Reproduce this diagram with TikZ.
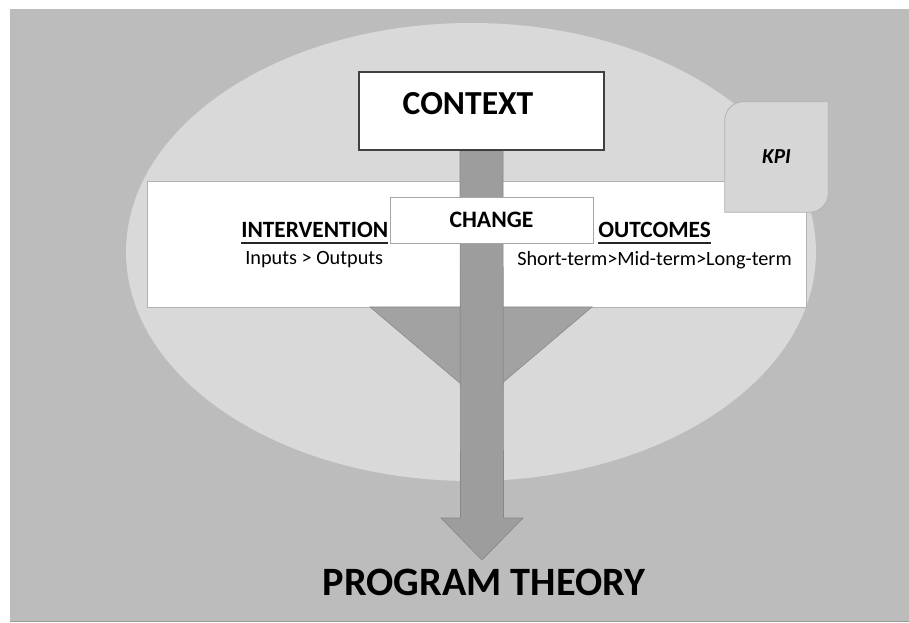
\documentclass[tikz,border=0pt]{standalone}
\usepackage{fontspec}
\setmainfont{Carlito}
\usetikzlibrary{
  calc
  , positioning
}
\definecolor{framegray}{HTML}{BCBCBC}
\definecolor{ovalgray}{HTML}{D9D9D9}
\definecolor{shaftgray}{HTML}{9D9D9D}
\definecolor{shaftedge}{HTML}{888888}
\definecolor{funnelgray}{HTML}{A2A2A2}
\definecolor{kpigray}{HTML}{D6D6D6}
\pgfdeclarelayer{back}
\pgfdeclarelayer{mid}
\pgfsetlayers{back,mid,main}

\begin{document}
\begin{tikzpicture}[x=0.75pt, y=-0.75pt,
    whitebox/.style={draw, fill=white, inner sep=0pt},
    heading/.style={anchor=base west, inner sep=0pt, font=\fontsize{17.5}{20}\selectfont\bfseries},
    subline/.style={anchor=base west, inner sep=0pt, font=\fontsize{15.2}{17}\selectfont},
  ]
  \useasboundingbox (0,0) rectangle (909,623);

  \begin{pgfonlayer}{back}
    \fill[white] (0,0) rectangle (909,623);
    \fill[framegray] (10,9) rectangle (909,621);
    \draw[black!40] (10,621.5) -- (909,621.5);
    \fill[ovalgray] (471,252) ellipse [x radius=345, y radius=229];
    \node[whitebox, draw=black!30, minimum width=659*0.75pt, minimum height=126*0.75pt] (band) at (476.5,244) {};
    % funnel under the band
    \filldraw[fill=funnelgray, draw=shaftedge, line width=0.4pt] (370,307) -- (592,307) -- (481,401) -- cycle;
  \end{pgfonlayer}

  \node[whitebox, draw=black!75, line width=1.1pt, minimum width=245*0.75pt, minimum height=78*0.75pt] (context) at (481.5,111) {};
  \node[inner sep=0pt, font=\fontsize{25.2}{28}\selectfont\bfseries] (contexttext) at (468,104) {CONTEXT};

  \node[whitebox, draw=black!35, minimum width=203*0.75pt, minimum height=46*0.75pt,
    font=\fontsize{17.7}{20}\selectfont\bfseries] (change) at (491.5,220) {CHANGE};

  \node[heading] (intervention) at (241,238) {INTERVENTION};
  \node[subline] (inout) at (245,265) {Inputs > Outputs};
  \node[heading] (outcomes) at (598,238) {OUTCOMES};
  \node[subline] (terms) at (517,266) {Short-term>Mid-term>Long-term};
  \draw[line width=1.4pt, black!85] ($(intervention.base west)+(0,5)$) -- ($(intervention.base east)+(0,5)$);
  \draw[line width=1.4pt, black!85] ($(outcomes.base west)+(0,5)$) -- ($(outcomes.base east)+(0,5)$);

  \node[inner sep=0pt, minimum width=103*0.75pt, minimum height=110*0.75pt,
    font=\fontsize{16}{18}\selectfont\bfseries\itshape] (kpi) at (776.5,157) {KPI};
  \begin{pgfonlayer}{mid}
    \filldraw[fill=kpigray, draw=black!30, line width=0.6pt]
      (kpi.south west) [rounded corners=14] -- (kpi.north west) [sharp corners] -- (kpi.north east)
      [rounded corners=14] -- (kpi.south east) [sharp corners] -- cycle;
  \end{pgfonlayer}

  \node[inner sep=0pt, font=\fontsize{30.2}{34}\selectfont\bfseries] (theory) at (484,582) {PROGRAM THEORY};
  \coordinate (tip) at (482,560);

  % the long arrow from context down to the theory
  \begin{pgfonlayer}{mid}
    \filldraw[fill=shaftgray, draw=shaftedge, line width=0.5pt]
      ($(context.south)+(-21.5,0)$) -- ($(tip)+(-21.5,-42)$) -- ($(tip)+(-41,-42)$) -- (tip)
      -- ($(tip)+(41,-42)$) -- ($(tip)+(21.5,-42)$) -- ($(context.south)+(21.5,0)$) -- cycle;
  \end{pgfonlayer}
\end{tikzpicture}
\end{document}
